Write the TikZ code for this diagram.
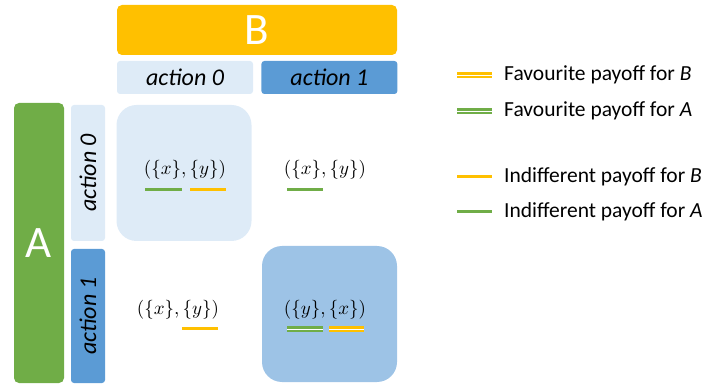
\documentclass[tikz,border=0pt]{standalone}
\usepackage{fontspec}
\setmainfont{Carlito}
\usetikzlibrary{positioning}

\definecolor{gold}{HTML}{FFC000}
\definecolor{paleblue}{HTML}{DEEBF7}
\definecolor{midblue}{HTML}{5B9BD5}
\definecolor{cellblue}{HTML}{9DC3E6}
\definecolor{leafgreen}{HTML}{70AD47}

\tikzset{
  player/.style={rounded corners=5pt, text=white, inner sep=0pt, font=\fontsize{45}{54}\selectfont},
  act/.style={rounded corners=3pt, inner sep=0pt, font=\fontsize{24}{28}\selectfont\itshape},
  cell/.style={rounded corners=20pt, minimum width=135pt, minimum height=136pt, inner sep=0pt},
  payoff/.style={inner sep=0pt, font=\fontsize{10}{12}\selectfont, scale=1.9, transform shape},
  ind/.style={line width=3pt},
  fav/.style={line width=2.1pt, double=white, double distance=0.9pt},
  legend/.style={anchor=west, inner sep=0pt, font=\fontsize{21.5}{25}\selectfont}
}

\begin{document}
\begin{tikzpicture}[x=1pt,y=1pt]
\useasboundingbox (0,0) rectangle (704,383);

% players
\node[player, fill=gold, minimum width=280pt, minimum height=50pt] (B) at (257,353) {B};
\node[player, fill=leafgreen, minimum width=50pt, minimum height=280pt] (A) at (39,140) {A};

% actions
\node[act, fill=paleblue, minimum width=136pt, minimum height=33pt] (B0) at (185,305.5) {action 0};
\node[act, fill=midblue, minimum width=136pt, minimum height=33pt] (B1) [right=8pt of B0] {action 1};
\node[act, fill=paleblue, minimum width=136pt, minimum height=34pt, rotate=90] (A0) at (88,210) {action 0};
\node[act, fill=midblue, minimum width=134pt, minimum height=34pt, rotate=90] (A1) at (88,67) {action 1};

% highlighted cells
\node[cell, fill=paleblue] (C00) at (184,210) {};
\node[cell, fill=cellblue] (C11) at (329.5,69) {};

% payoffs
\node[payoff] (P00) at (185,213) {$(\{x\},\{y\})$};
\node[payoff] (P01) at (325,213) {$(\{x\},\{y\})$};
\node[payoff] (P10) at (178,73) {$(\{x\},\{y\})$};
\node[payoff] (P11) at (325,73) {$(\{y\},\{x\})$};

\draw[ind, leafgreen] (145,193) -- (182,193);
\draw[ind, gold] (190,193) -- (226,193);
\draw[ind, leafgreen] (287,193) -- (323,193);
\draw[ind, gold] (182,55) -- (218,55);
\draw[fav, leafgreen] (287,54) -- (323,54);
\draw[fav, gold] (329,54) -- (364,54);

% legend
\node[legend] (L1) at (504,308) {Favourite payoff for \textit{B}};
\node[legend] (L2) at (504,272) {Favourite payoff for \textit{A}};
\node[legend] (L3) at (504,206) {Indifferent payoff for \textit{B}};
\node[legend] (L4) at (504,171) {Indifferent payoff for \textit{A}};

\draw[fav, gold] ([xshift=-47pt]L1.west) -- ([xshift=-12pt]L1.west);
\draw[fav, leafgreen] ([xshift=-47pt]L2.west) -- ([xshift=-12pt]L2.west);
\draw[ind, gold] ([xshift=-47pt]L3.west) -- ([xshift=-12pt]L3.west);
\draw[ind, leafgreen] ([xshift=-47pt]L4.west) -- ([xshift=-12pt]L4.west);

\end{tikzpicture}
\end{document}
